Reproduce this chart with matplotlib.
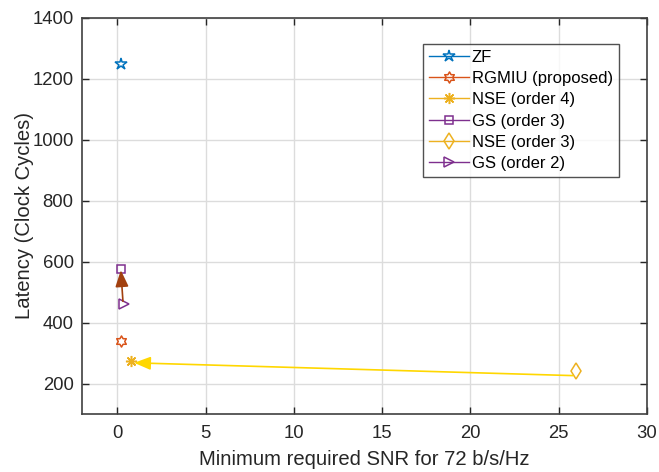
import matplotlib
matplotlib.use('Agg')
import matplotlib.pyplot as plt
from matplotlib.path import Path
import numpy as np

plt.rcParams['font.family'] = ['Liberation Sans', 'DejaVu Sans']

# data
labels = ['ZF', 'RGMIU (proposed)', 'NSE (order 4)', 'GS (order 3)',
          'NSE (order 3)', 'GS (order 2)']
snr = [0.2, 0.2, 0.8, 0.2, 26.0, 0.4]
latency = [1250, 340, 275, 575, 240, 460]
colors = ['#0072BD', '#D95319', '#EDB120', '#7E2F8E', '#EDB120', '#7E2F8E']

# arrows (start -> end) in data units
arrow_yellow = ((25.8, 226), (0.95, 268))
arrow_brown = ((0.32, 470), (0.2, 572))

xticks = [0, 5, 10, 15, 20, 25, 30]
yticks = [200, 400, 600, 800, 1000, 1200, 1400]

# matlab-like hexagram marker
ang = np.pi / 2 + np.arange(12) * np.pi / 6
rad = np.where(np.arange(12) % 2 == 0, 1.0, 0.577)
hexagram = Path(np.column_stack([rad * np.cos(ang), rad * np.sin(ang)]).tolist()
                + [[0, 1]], closed=True)

markers = ['*', hexagram, (8, 2, 0), 's', 'd', '>']
sizes = [9, 8, 8, 6, 8, 7]

fig = plt.figure(figsize=(6.59, 4.72), dpi=100)
ax = fig.add_axes([0.1244, 0.1229, 0.8574, 0.839])

for lab, x, y, m, c, ms in zip(labels, snr, latency, markers, colors, sizes):
    ax.plot([x], [y], linestyle='-', marker=m, color=c, mfc='none',
            ms=ms, mew=1.1, lw=1, label=lab)

(x0, y0), (x1, y1) = arrow_yellow
ax.annotate('', xy=(x1, y1), xytext=(x0, y0),
            arrowprops=dict(arrowstyle='-|>,head_length=1.0,head_width=0.4',
                            color='#FFD700', lw=1.2, shrinkA=0, shrinkB=0))
(x0, y0), (x1, y1) = arrow_brown
ax.annotate('', xy=(x1, y1), xytext=(x0, y0),
            arrowprops=dict(arrowstyle='-|>,head_length=1.0,head_width=0.4',
                            color='#A2400F', lw=1.2, shrinkA=0, shrinkB=0))

ax.set_xlim(-2, 30)
ax.set_ylim(100, 1400)
ax.set_xticks(xticks)
ax.set_yticks(yticks)
ax.grid(True, color='#dcdcdc', lw=1.0)
ax.set_axisbelow(True)
ax.tick_params(direction='in', length=5, width=1, colors='#262626',
               labelsize=13.3, top=True, right=True)
ax.tick_params(axis='x', pad=8)
ax.tick_params(axis='y', pad=6)
for s in ax.spines.values():
    s.set_color('#404040')
    s.set_linewidth(1.2)

ax.set_xlabel('Minimum required SNR for 72 b/s/Hz', fontsize=14.6,
              color='#262626', labelpad=6)
ax.set_ylabel('Latency (Clock Cycles)', fontsize=14.6, color='#262626',
              labelpad=-1)

leg = ax.legend(loc='upper left', bbox_to_anchor=(0.604, 0.935), fontsize=12,
                frameon=True, fancybox=False, edgecolor='#262626',
                handlelength=2.4, handletextpad=0.15, borderpad=0.35,
                labelspacing=0.38, borderaxespad=0)
leg.get_frame().set_linewidth(1.0)

fig.savefig('out.png', dpi=100)
